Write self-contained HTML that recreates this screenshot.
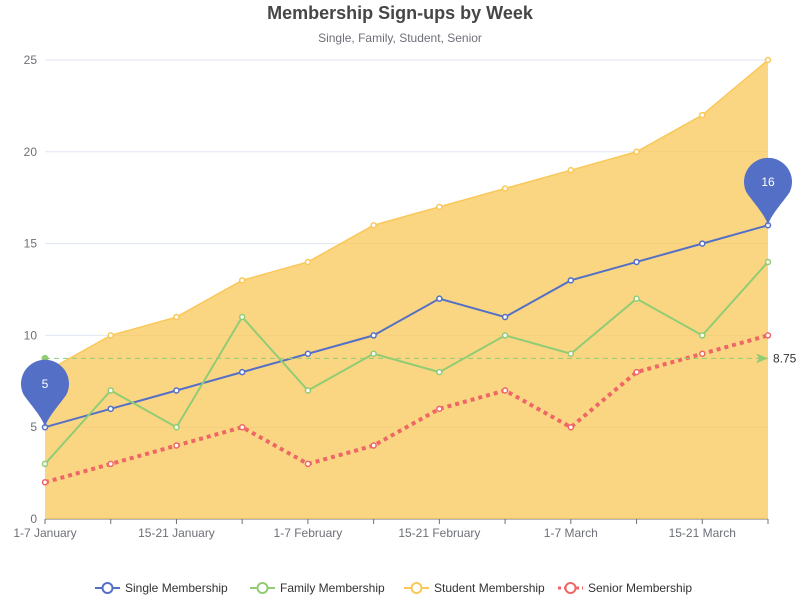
<!DOCTYPE html>
<html><head><meta charset="utf-8"><style>
body{margin:0;background:#fff;font-family:"Liberation Sans",sans-serif}
svg text{font-family:"Liberation Sans",sans-serif}
</style></head><body>
<svg id="c" width="800" height="600" xmlns="http://www.w3.org/2000/svg">
<text x="400" y="19" text-anchor="middle" font-size="18" font-weight="bold" fill="#464646">Membership Sign-ups by Week</text>
<text x="400" y="42" text-anchor="middle" font-size="12" fill="#6e7079">Single, Family, Student, Senior</text>
<g id="grid"></g><g id="series"></g><g id="marks"></g><g id="legend"></g>
</svg>
<script>
const categories=["1-7 January","8-14 January","15-21 January","22-28 January","1-7 February","8-14 February","15-21 February","22-28 February","1-7 March","8-14 March","15-21 March","22-28 March"];
const singleVals=[5,6,7,8,9,10,12,11,13,14,15,16];
const familyVals=[3,7,5,11,7,9,8,10,9,12,10,14];
const studentVals=[8,10,11,13,14,16,17,18,19,20,22,25];
const seniorVals=[2,3,4,5,3,4,6,7,5,8,9,10];
const yTicks=[0,5,10,15,20,25];
const seriesNames=["Single Membership","Family Membership","Student Membership","Senior Membership"];
const NS="http://www.w3.org/2000/svg";
const L=45,R=768,T=60,B=519,YMAX=25;
const xs=i=>L+i*(R-L)/(categories.length-1);
const ys=v=>B-v*(B-T)/YMAX;
function mk(tag,attrs,parent){const e=document.createElementNS(NS,tag);for(const k in attrs)e.setAttribute(k,attrs[k]);parent.appendChild(e);return e;}
const grid=document.getElementById('grid'),ser=document.getElementById('series'),marks=document.getElementById('marks'),leg=document.getElementById('legend');
yTicks.forEach(t=>{
 const y=ys(t);
 if(t>0){const g=mk('line',{x1:L,x2:R,y1:y,y2:y,stroke:'#e0e6f1'},grid);
 
 }
 const tx=mk('text',{x:L-8,y:y+4,'text-anchor':'end','font-size':12,fill:'#6e7079'},grid);tx.textContent=t;
 
 
});
const ax=mk('line',{x1:L,x2:R,y1:B,y2:B,stroke:'#6e7079'},grid);


categories.forEach((c,i)=>{
 const x=xs(i);
 const tk=mk('line',{x1:x,x2:x,y1:B,y2:B+5,stroke:'#6e7079'},grid);
 
 
 if(i%2===0){const t=mk('text',{x:x,y:B+18,'text-anchor':'middle','font-size':12,fill:'#6e7079'},grid);t.textContent=c;
 
 }
});
function pts(v){return v.map((d,i)=>xs(i)+','+ys(d)).join(' ');}
const area=mk('polygon',{points:xs(0)+','+B+' '+pts(studentVals)+' '+xs(studentVals.length-1)+','+B,fill:'#f9c652',opacity:0.72},ser);


const defs=[[studentVals,'#fac858',1.5,null,'student'],[singleVals,'#5470c6',2,null,'single'],[familyVals,'#91cc75',2,null,'family'],[seniorVals,'#ee6666',4,'4 4','senior']];
defs.forEach(([vals,col,w,dash,name])=>{
 const a={points:pts(vals),fill:'none',stroke:col,'stroke-width':w};if(dash)a['stroke-dasharray']=dash;
 const pl=mk('polyline',a,ser);
 
 
 vals.forEach((v,i)=>{const c=mk('circle',{cx:xs(i),cy:ys(v),r:2.5,fill:'#fff',stroke:col,'stroke-width':1.5},ser);
 
 });
});
const avg=familyVals.reduce((a,b)=>a+b,0)/familyVals.length;
const ml=mk('line',{x1:L,x2:R,y1:ys(avg),y2:ys(avg),stroke:'#91cc75','stroke-dasharray':'5 4'},marks);


const mc=mk('circle',{cx:L,cy:ys(avg),r:3.5,fill:'#91cc75'},marks);


const ar=mk('path',{d:`M${R-12},${ys(avg)-5} L${R},${ys(avg)} L${R-12},${ys(avg)+5} L${R-9},${ys(avg)} Z`,fill:'#91cc75'},marks);


const at=mk('text',{x:R+5,y:ys(avg)+4,'font-size':12,fill:'#333'},marks);at.textContent=avg;


function pin(i,v,name){
 const x=xs(i),y=ys(v),cy=y-43,r=24;
 const p=mk('path',{d:`M${x},${y} C${x-2},${y-10} ${x-20},${cy+14} ${x-r*0.92},${cy+9} A${r},${r} 0 1 1 ${x+r*0.92},${cy+9} C${x+20},${cy+14} ${x+2},${y-10} ${x},${y} Z`,fill:'#5470c6'},marks);
 
 
 const t=mk('text',{x:x,y:cy+4,'text-anchor':'middle','font-size':12,fill:'#fff'},marks);t.textContent=v;
 
 
}
const mnI=singleVals.indexOf(Math.min(...singleVals)),mxI=singleVals.indexOf(Math.max(...singleVals));
pin(mnI,singleVals[mnI],'min-pin');pin(mxI,singleVals[mxI],'max-pin');
const cols=['#5470c6','#91cc75','#fac858','#ee6666'];const lx=[95,250,404,558];
seriesNames.forEach((n,i)=>{
 const g=mk('g',{},leg);
 
 
 mk('line',{x1:lx[i],x2:lx[i]+25,y1:588,y2:588,stroke:cols[i],'stroke-width':i===3?3:2,'stroke-dasharray':i===3?'3 3':'none'},g);
 mk('circle',{cx:lx[i]+12.5,cy:588,r:5,fill:'#fff',stroke:cols[i],'stroke-width':2},g);
 const t=mk('text',{x:lx[i]+30,y:592,'font-size':12,fill:'#333'},g);t.textContent=n;
});
</script>
</body></html>
